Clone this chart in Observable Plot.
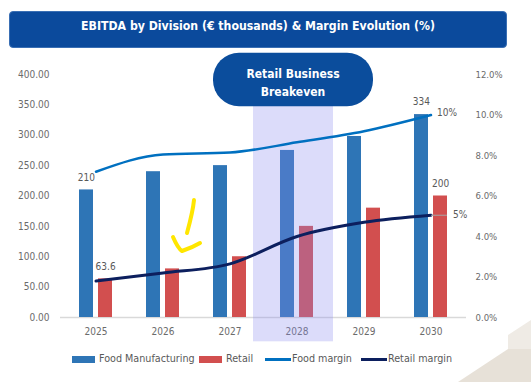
<!DOCTYPE html>
<html>
<head>
<meta charset="utf-8">
<script src="https://cdn.jsdelivr.net/npm/d3@7"></script>
<script src="https://cdn.jsdelivr.net/npm/@observablehq/plot@0.6"></script>
<style>
  html, body { margin: 0; padding: 0; background: #fff; }
  #page { position: relative; width: 531px; height: 382px; overflow: hidden;
          font-family: "DejaVu Sans Condensed", sans-serif; }
  .deco { position: absolute; left: 0; top: 0; width: 531px; height: 382px; }
  #title { position: absolute; left: 9px; top: 11px; width: 498px; height: 37px; box-sizing: border-box;
           background: #0b4a9c; border-radius: 4px; color: #fff; font-weight: bold; font-size: 12.2px;
           text-align: center; line-height: 28px; border: 1px solid #3a6fb4; }
  #chart { position: absolute; left: 0; top: 50px; }
  #legend { position: absolute; left: 0; top: 349px; width: 531px; height: 20px; font-size: 10.7px; color: #595959; }
  .li { position: absolute; top: 0; height: 20px; line-height: 20px; white-space: nowrap; }
  .sw { position: absolute; }
</style>
</head>
<body>
<div id="page">
  <div class="deco" style="background:#efebe5; clip-path: polygon(508px 335px, 531px 320px, 531px 349px, 508px 349px);"></div>
  <div class="deco" style="background:#e7e1d8; clip-path: polygon(458px 382px, 508px 349px, 531px 349px, 531px 382px);"></div>
  <div id="title">EBITDA by Division (€ thousands) &amp; Margin Evolution (%)</div>
  <div id="chart"></div>
  <div id="legend"></div>
  <svg class="deco" width="531" height="382" style="pointer-events:none">
    <path d="M194,200 C193,211 190,222 187,233 M173,237 C176,244 179,249 182,251 C188,249 195,246 200,243"
          fill="none" stroke="#ffe600" stroke-width="4" stroke-linecap="round" stroke-linejoin="round"/>
  </svg>
</div>
<script>
// ---- data ----
const years = ["2025", "2026", "2027", "2028", "2029", "2030"];
const foodEbitda = [210, 240, 250, 275, 298, 334];
const retailEbitda = [63.6, 80, 100, 150, 180, 200];
const foodMargin = [7.2, 8.05, 8.15, 8.65, 9.2, 10];     // %
const retailMargin = [1.8, 2.2, 2.65, 4.0, 4.7, 5.05];   // %
const leftTicks = [0, 50, 100, 150, 200, 250, 300, 350, 400];
const rightTicks = [0, 2, 4, 6, 8, 10, 12];
const highlightYear = ["2028"];
const bubbleText = ["Retail Business\nBreakeven"];
const legendItems = [
  {label: "Food Manufacturing", kind: "bar", color: "#2e75b6"},
  {label: "Retail", kind: "bar", color: "#d24f4f"},
  {label: "Food margin", kind: "line", color: "#0070c0"},
  {label: "Retail margin", kind: "line", color: "#0c1f5e"}
];

const k = 400 / 12; // right axis (%) -> left axis units
const rows = years.map((year, i) => ({
  year, food: foodEbitda[i], retail: retailEbitda[i], fm: foodMargin[i], rm: retailMargin[i]
}));
const first = rows[0], last = rows[rows.length - 1];
const tickColor = "#6b6b6b";

const chart = Plot.plot({
  width: 531,
  height: 295,
  marginLeft: 60,
  marginRight: 65,
  marginTop: 24,
  marginBottom: 28,
  x: {domain: years, type: "band", padding: 0},
  y: {domain: [0, 400]},
  style: {fontFamily: "'DejaVu Sans Condensed', sans-serif", fontSize: "10px", color: tickColor, overflow: "visible", background: "transparent"},
  marks: [
    Plot.axisY(leftTicks, {anchor: "left", tickSize: 0, tickPadding: 11, tickFormat: d => d.toFixed(2), label: null, fontSize: 10}),
    Plot.text(rightTicks, {y: d => d * k, text: d => d.toFixed(1) + "%", frameAnchor: "right", dx: 9, textAnchor: "start", fill: tickColor, fontSize: 9.5}),
    Plot.axisX({tickSize: 0, tickPadding: 10, label: null, fontSize: 10}),
    Plot.ruleY([0], {stroke: "#d9d9d9", strokeWidth: 1.5}),
    Plot.barY(rows, {x: "year", y: "food", fill: "#2e75b6", insetLeft: 17, insetRight: 36}),
    Plot.barY(rows, {x: "year", y: "retail", fill: "#d24f4f", insetLeft: 36, insetRight: 17}),
    // highlighted breakeven year
    Plot.barY(highlightYear, {x: d => d, y1: -40, y2: 349, fill: "rgb(140,140,240)", fillOpacity: 0.3, insetLeft: -10, insetRight: -3}),
    Plot.lineY(rows, {x: "year", y: d => d.fm * k, stroke: "#0070c0", strokeWidth: 2.5, curve: "monotone-x"}),
    Plot.lineY(rows, {x: "year", y: d => d.rm * k, stroke: "#0c1f5e", strokeWidth: 3, curve: "monotone-x"}),
    Plot.tickY([last], {x: "year", y: d => d.rm * k, stroke: "#a6a6a6", strokeWidth: 1, insetLeft: 34, insetRight: 17}),
    Plot.text([last], {x: "year", y: d => d.fm * k, text: () => "10%", textAnchor: "start", dx: 6, dy: -2, fill: "#595959", fontSize: 10}),
    Plot.text([last], {x: "year", y: d => d.rm * k, text: () => "5%", textAnchor: "start", dx: 22, fill: "#595959", fontSize: 10}),
    Plot.text([first, last], {x: "year", y: "food", text: d => String(d.food), dx: -9.6, dy: -12.5, fill: "#595959", fontSize: 10}),
    Plot.text([first, last], {x: "year", y: "retail", text: d => String(d.retail), dx: 9.6, dy: -12, fill: "#595959", fontSize: 10}),
    // breakeven bubble
    Plot.barY(highlightYear, {x: d => d, y1: 347, y2: 435, fill: "#0b4d9c", insetLeft: -50, insetRight: -43, rx: 26}),
    Plot.text(bubbleText, {x: () => "2028", y: () => 388.5, dx: -4, text: d => d, fill: "white", fontWeight: "bold", fontSize: 12, lineHeight: 1.5})
  ]
});
document.getElementById("chart").appendChild(chart);

// legend
const legend = document.getElementById("legend");
const lefts = [72, 199, 265, 361];
legendItems.forEach((it, i) => {
  const el = document.createElement("div");
  el.className = "li";
  el.style.left = lefts[i] + "px";
  const sw = document.createElement("span");
  sw.className = "sw";
  sw.style.background = it.color;
  if (it.kind === "bar") { sw.style.left = "0px"; sw.style.top = "7px"; sw.style.width = "23px"; sw.style.height = "7px"; }
  else { sw.style.left = "0px"; sw.style.top = "9px"; sw.style.width = "26px"; sw.style.height = "3px"; }
  const tx = document.createElement("span");
  tx.textContent = it.label;
  tx.style.position = "absolute";
  tx.style.left = "27px";
  el.appendChild(sw);
  el.appendChild(tx);
  legend.appendChild(el);
});
</script>
</body>
</html>
